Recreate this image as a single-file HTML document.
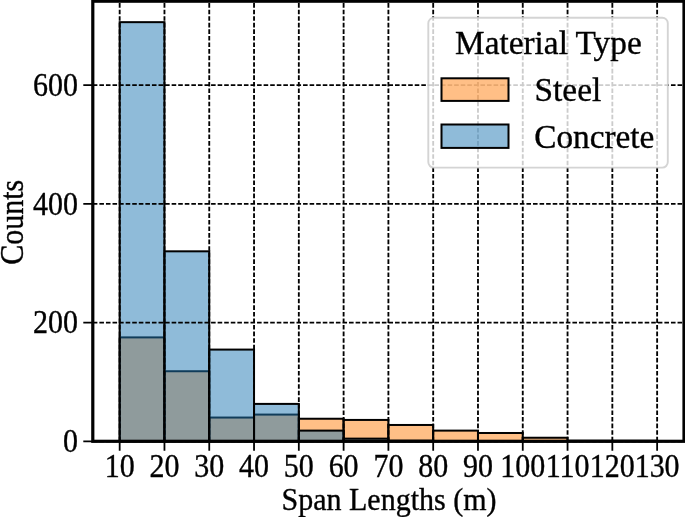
<!DOCTYPE html>
<html lang="en"><head><meta charset="utf-8"><title>Span Lengths Histogram</title>
<style>html,body{margin:0;padding:0;background:#fff}body{width:685px;height:517px;overflow:hidden}svg text{stroke:#000;stroke-width:0.35px;fill:#000}</style></head>
<body>
<svg width="685" height="517" viewBox="0 0 685 517" style="display:block;font-family:'Liberation Serif','Times New Roman',serif">
<rect width="685" height="517" fill="#fff"/>
<g opacity="0.999">
<rect x="119.67" y="337.40" width="44.79" height="103.90" fill="#ff7f0e" fill-opacity="0.5" stroke="#000" stroke-width="2"/>
<rect x="164.46" y="371.24" width="44.79" height="70.06" fill="#ff7f0e" fill-opacity="0.5" stroke="#000" stroke-width="2"/>
<rect x="209.25" y="417.55" width="44.79" height="23.75" fill="#ff7f0e" fill-opacity="0.5" stroke="#000" stroke-width="2"/>
<rect x="254.04" y="414.58" width="44.79" height="26.72" fill="#ff7f0e" fill-opacity="0.5" stroke="#000" stroke-width="2"/>
<rect x="298.82" y="418.74" width="44.79" height="22.56" fill="#ff7f0e" fill-opacity="0.5" stroke="#000" stroke-width="2"/>
<rect x="343.61" y="419.93" width="44.79" height="21.37" fill="#ff7f0e" fill-opacity="0.5" stroke="#000" stroke-width="2"/>
<rect x="388.40" y="424.97" width="44.79" height="16.33" fill="#ff7f0e" fill-opacity="0.5" stroke="#000" stroke-width="2"/>
<rect x="433.19" y="430.61" width="44.79" height="10.69" fill="#ff7f0e" fill-opacity="0.5" stroke="#000" stroke-width="2"/>
<rect x="477.98" y="432.99" width="44.79" height="8.31" fill="#ff7f0e" fill-opacity="0.5" stroke="#000" stroke-width="2"/>
<rect x="522.76" y="437.74" width="44.79" height="3.56" fill="#ff7f0e" fill-opacity="0.5" stroke="#000" stroke-width="2"/>
<rect x="567.55" y="440.71" width="44.79" height="0.59" fill="#ff7f0e" fill-opacity="0.5" stroke="#000" stroke-width="2"/>
<rect x="612.34" y="440.71" width="44.79" height="0.59" fill="#ff7f0e" fill-opacity="0.5" stroke="#000" stroke-width="2"/>
<rect x="119.67" y="22.16" width="44.79" height="419.14" fill="#1f77b4" fill-opacity="0.5" stroke="#000" stroke-width="2"/>
<rect x="164.46" y="251.32" width="44.79" height="189.98" fill="#1f77b4" fill-opacity="0.5" stroke="#000" stroke-width="2"/>
<rect x="209.25" y="349.58" width="44.79" height="91.72" fill="#1f77b4" fill-opacity="0.5" stroke="#000" stroke-width="2"/>
<rect x="254.04" y="403.90" width="44.79" height="37.40" fill="#1f77b4" fill-opacity="0.5" stroke="#000" stroke-width="2"/>
<rect x="298.82" y="430.61" width="44.79" height="10.69" fill="#1f77b4" fill-opacity="0.5" stroke="#000" stroke-width="2"/>
<rect x="343.61" y="438.63" width="44.79" height="2.67" fill="#1f77b4" fill-opacity="0.5" stroke="#000" stroke-width="2"/>
<rect x="388.40" y="440.71" width="44.79" height="0.59" fill="#1f77b4" fill-opacity="0.5" stroke="#000" stroke-width="2"/>
<path d="M119.67 441.3 V1.2 M164.46 441.3 V1.2 M209.25 441.3 V1.2 M254.04 441.3 V1.2 M298.82 441.3 V1.2 M343.61 441.3 V1.2 M388.40 441.3 V1.2 M433.19 441.3 V1.2 M477.98 441.3 V1.2 M522.76 441.3 V1.2 M567.55 441.3 V1.2 M612.34 441.3 V1.2 M657.13 441.3 V1.2 M92.8 441.30 H684.0 M92.8 322.56 H684.0 M92.8 203.83 H684.0 M92.8 85.09 H684.0" stroke="#000" stroke-width="1.85" stroke-dasharray="4.59 1.98" fill="none"/>
<path d="M119.67 441.3 v9.5 M164.46 441.3 v9.5 M209.25 441.3 v9.5 M254.04 441.3 v9.5 M298.82 441.3 v9.5 M343.61 441.3 v9.5 M388.40 441.3 v9.5 M433.19 441.3 v9.5 M477.98 441.3 v9.5 M522.76 441.3 v9.5 M567.55 441.3 v9.5 M612.34 441.3 v9.5 M657.13 441.3 v9.5 M92.8 441.30 h-9.5 M92.8 322.56 h-9.5 M92.8 203.83 h-9.5 M92.8 85.09 h-9.5" stroke="#000" stroke-width="1.8" fill="none"/>
<rect x="92.8" y="1.2" width="591.2" height="440.1" fill="none" stroke="#000" stroke-width="3.2"/>
<text transform="translate(119.67 477.3) scale(1 1.1)" font-size="30" text-anchor="middle">10</text>
<text transform="translate(164.46 477.3) scale(1 1.1)" font-size="30" text-anchor="middle">20</text>
<text transform="translate(209.25 477.3) scale(1 1.1)" font-size="30" text-anchor="middle">30</text>
<text transform="translate(254.04 477.3) scale(1 1.1)" font-size="30" text-anchor="middle">40</text>
<text transform="translate(298.82 477.3) scale(1 1.1)" font-size="30" text-anchor="middle">50</text>
<text transform="translate(343.61 477.3) scale(1 1.1)" font-size="30" text-anchor="middle">60</text>
<text transform="translate(388.40 477.3) scale(1 1.1)" font-size="30" text-anchor="middle">70</text>
<text transform="translate(433.19 477.3) scale(1 1.1)" font-size="30" text-anchor="middle">80</text>
<text transform="translate(477.98 477.3) scale(1 1.1)" font-size="30" text-anchor="middle">90</text>
<text transform="translate(522.76 477.3) scale(1 1.1)" font-size="30" text-anchor="middle">100</text>
<text transform="translate(567.55 477.3) scale(1 1.1)" font-size="30" text-anchor="middle">110</text>
<text transform="translate(612.34 477.3) scale(1 1.1)" font-size="30" text-anchor="middle">120</text>
<text transform="translate(657.13 477.3) scale(1 1.1)" font-size="30" text-anchor="middle">130</text>
<text transform="translate(78 452.10) scale(1 1.1)" font-size="30" text-anchor="end">0</text>
<text transform="translate(78 333.36) scale(1 1.1)" font-size="30" text-anchor="end">200</text>
<text transform="translate(78 214.63) scale(1 1.1)" font-size="30" text-anchor="end">400</text>
<text transform="translate(78 95.89) scale(1 1.1)" font-size="30" text-anchor="end">600</text>
<text transform="translate(389 509.9) scale(1 1.06)" font-size="30" text-anchor="middle">Span Lengths (m)</text>
<text transform="translate(22.5 222.2) rotate(-90) scale(1 1.1)" font-size="30" text-anchor="middle">Counts</text>
<rect x="428.3" y="17.8" width="239.5" height="149.8" rx="5.5" fill="#fff" fill-opacity="0.8" stroke="#ccc" stroke-opacity="0.85" stroke-width="1.9"/>
<text transform="translate(548.4 54) scale(1 1.04)" font-size="33.3" text-anchor="middle">Material Type</text>
<rect x="441.5" y="78.3" width="67" height="22.6" fill="#ff7f0e" fill-opacity="0.5" stroke="#000" stroke-width="2"/>
<rect x="441.5" y="124.5" width="67" height="23.4" fill="#1f77b4" fill-opacity="0.5" stroke="#000" stroke-width="2"/>
<text transform="translate(534.6 101.3) scale(1 1.04)" font-size="33.3">Steel</text>
<text transform="translate(534.2 147.7) scale(1 1.04)" font-size="33.3">Concrete</text>
</g>
</svg>
</body></html>
